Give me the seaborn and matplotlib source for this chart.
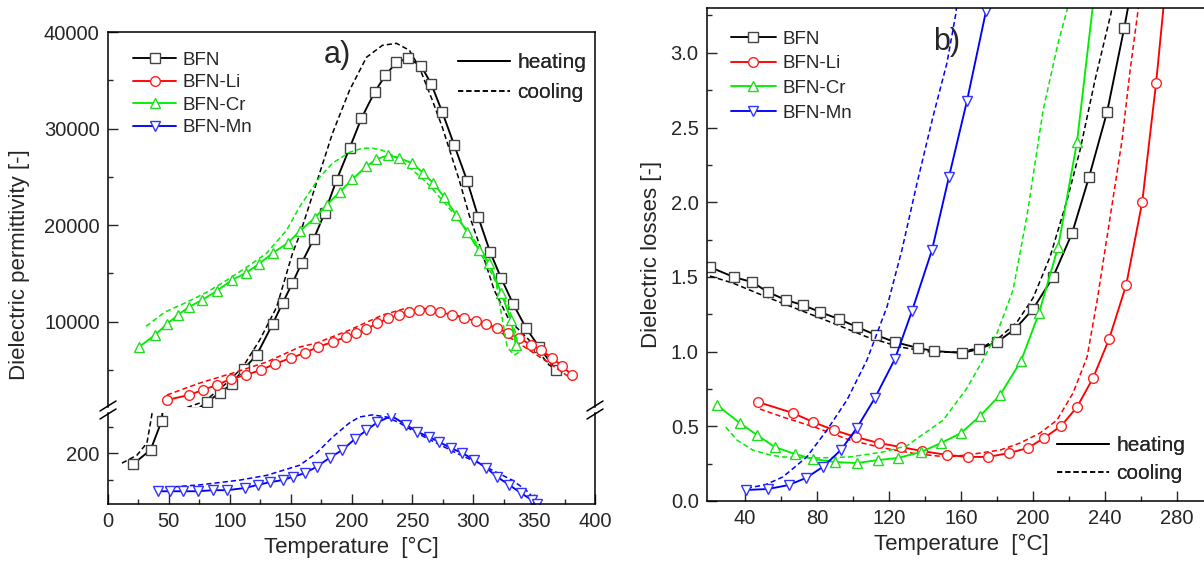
import matplotlib
matplotlib.use("Agg")
import matplotlib.pyplot as plt
from matplotlib.lines import Line2D
from matplotlib.ticker import MultipleLocator
import seaborn as sns

# ---------------- panel a) dielectric permittivity ----------------
a_bfn_heat_T = [20.5, 35, 44, 55, 70, 81.1, 91.8, 101.6, 111.5, 122.1, 135.2, 143.4, 151.5, 159, 168.9,
                177.9, 187.7, 198.4, 208.2, 218.9, 227.9, 236.9, 246.7, 257.4, 265.6, 274.6, 284.4,
                295.1, 304.1, 313.9, 322.9, 332.8, 343.4, 354.1, 368]
a_bfn_heat_V = [179, 206, 260, 500, 600, 1693, 2624, 3555, 5107, 6555, 9762, 11934, 14000, 16072, 18555,
                21245, 24659, 27969, 31073, 33763, 35521, 36866, 37280, 36452, 34590, 31693, 28280,
                24555, 20831, 17210, 14521, 11831, 9348, 7383, 5003]
a_bfn_cool_T = [11.5, 23.8, 32, 36, 45, 62, 75.4, 83.6, 97.5, 110.7, 124.6, 138.5, 151.6, 157.4, 173.8,
                184.4, 198.4, 212.3, 225.4, 236.9, 247.5, 255.7, 266.4, 274.6, 288.5, 296.7, 306.6,
                317.2, 329.5, 345.9, 362.3, 373]
a_bfn_cool_V = [181, 196, 219, 272, 500, 1000, 1590, 2210, 3660, 5310, 8107, 11520, 17107, 18970, 25380,
                29520, 33970, 37380, 38620, 38830, 38110, 36350, 32930, 30140, 24660, 21040, 17420,
                13280, 10180, 8107, 5521, 4690]

a_li_heat_T = [48.4, 66.4, 77.9, 89.3, 100.8, 113.1, 125.4, 136.9, 150, 161.5, 172.1, 184.4, 195.1,
               203.3, 212.3, 221.3, 230.3, 239.3, 247.5, 255.7, 264.8, 273, 282.8, 292.6, 302.5,
               310.7, 319.7, 328.7, 337.7, 347.5, 355.7, 364.8, 373, 381.1]
a_li_heat_V = [1900, 2417, 2934, 3452, 4072, 4486, 5003, 5624, 6245, 6762, 7383, 7900, 8417,
               8831, 9245, 9866, 10383, 10693, 11003, 11210, 11210, 11003, 10693, 10383, 10072,
               9762, 9348, 8831, 8314, 7590, 7073, 6245, 5417, 4486]
a_li_cool_T = [48.4, 75.4, 102.5, 130.3, 157.4, 171.3, 198.4, 225.4, 245.1, 258.2, 280.3, 307.4,
               329.5, 348.4, 362.3, 378.7]
a_li_cool_V = [2417, 3659, 4693, 5831, 7383, 7797, 9142, 10693, 11417, 11417, 10900, 9866,
               8417, 6866, 5728, 4279]

a_cr_heat_T = [25.4, 38.5, 48.4, 57.4, 66.4, 77, 89.3, 101.6, 113.1, 123.8, 135.2, 147.5, 157.4,
               169.7, 179.5, 190.2, 200.8, 212.3, 220.5, 230.3, 239.3, 250, 259, 267.2, 276.2,
               286.1, 295.1, 304.9, 313.1, 323, 331.1, 335]
a_cr_heat_V = [7383, 8624, 9762, 10693, 11521, 12245, 13176, 14314, 15038, 15969, 17107, 18141, 19383,
               20728, 22073, 23417, 24762, 26107, 26831, 27245, 26935, 26417, 25383, 24348, 22900,
               21038, 19280, 17417, 16072, 12969, 10176, 7600]
a_cr_cool_T = [292, 306, 314.5, 321.3, 329.5, 336, 337.7, 333.6, 327.9, 323, 318.9, 310.7, 299.2,
               288.5, 274.6, 261.5, 247.5, 236.9, 225.4, 217, 209, 198.4, 184.4, 173.8, 157.4,
               146.7, 130.3, 113.9, 97.5, 81.1, 64.8, 46.7, 30.3]
a_cr_cool_V = [19900, 17620, 15690, 13280, 11520, 8110, 6860, 6550, 7380, 10900, 14000, 16070, 18450,
               20520, 22590, 24450, 26000, 27040, 27760, 27970, 27970, 27550, 26420, 24970, 21900,
               19480, 17100, 15650, 14300, 13060, 12030, 11000, 9440]

a_mn_heat_T = [41, 50.8, 61.5, 73.8, 86, 97.5, 112.3, 123, 132.8, 143.4, 151.6, 161.5, 171.3, 182,
               192.6, 202.5, 212.3, 221.3, 232.8, 245, 254, 264, 272, 282, 291, 301, 310.7, 319.7,
               329.5, 339, 348.4, 352.5]
a_mn_heat_V = [128, 128, 128, 128, 130, 130, 134, 140, 145, 149, 155, 162, 174, 191,
               206, 226, 243, 258, 270, 253, 240, 230, 221, 209, 200, 187, 172, 155,
               140, 125, 111, 104]
a_mn_cool_T = [40.2, 75.4, 108.2, 130.3, 157.4, 171.3, 184.4, 198.4, 206.6, 217.2, 228.7, 239.3,
               253.3, 269.7, 286.1, 302.5, 318.9, 332, 343.4, 351.6, 356.6]
a_mn_cool_V = [134, 140, 149, 158, 177, 200, 230, 257, 268, 272, 268, 257,
               238, 219, 200, 183, 164, 149, 130, 111, 98]

# ---------------- panel b) dielectric losses ----------------
b_bfn_heat_T = [20.6, 33.9, 43.9, 52.8, 62.8, 72.2, 81.7, 92.2, 102.2, 112.8, 123.3, 136.1, 145,
                160.6, 170, 180, 190, 200, 211.1, 221.7, 231.1, 241.1, 250.6, 255]
b_bfn_heat_V = [1.566, 1.499, 1.466, 1.399, 1.345, 1.312, 1.265, 1.218, 1.165, 1.111, 1.064, 1.024,
                1.004, 0.991, 1.017, 1.064, 1.151, 1.285, 1.499, 1.794, 2.169, 2.604, 3.166, 3.45]
b_bfn_cool_T = [20.6, 33.3, 52.2, 70.6, 88.9, 107.8, 126.1, 142.8, 159.4, 172.2, 181.7, 191.1, 200,
                209.4, 218.9, 226.1, 234.4, 243.3, 245.5]
b_bfn_cool_V = [1.506, 1.459, 1.365, 1.278, 1.191, 1.098, 1.031, 0.997, 0.997, 1.031, 1.098, 1.198,
                1.359, 1.633, 2.015, 2.349, 2.818, 3.266, 3.45]

b_li_heat_T = [47.2, 66.7, 77.8, 89.4, 101.7, 114.4, 126.7, 138.3, 152.2, 163.9, 175, 186.7, 197.2,
               206.1, 215.6, 224.4, 233.3, 242.2, 251.7, 260.6, 268.3, 274]
b_li_heat_V = [0.663, 0.589, 0.529, 0.475, 0.428, 0.388, 0.361, 0.335, 0.308, 0.295, 0.295, 0.321,
               0.355, 0.422, 0.502, 0.629, 0.823, 1.084, 1.446, 2.001, 2.798, 3.5]
b_li_cool_T = [48.3, 61.1, 80, 98.3, 116.7, 135.6, 152.2, 163.3, 181.7, 192.8, 203.9, 213.3, 222.2,
               230, 235.6, 242.8, 249.4, 253.9, 258.3, 259.6]
b_li_cool_V = [0.616, 0.562, 0.489, 0.408, 0.355, 0.315, 0.295, 0.308, 0.341, 0.388, 0.455, 0.542,
               0.723, 0.964, 1.345, 1.901, 2.416, 2.885, 3.286, 3.45]

b_cr_heat_T = [24.4, 37.2, 46.7, 56.7, 67.8, 77.8, 90, 102.2, 113.9, 125, 137.8, 148.9, 160, 170.6,
               181.7, 193.3, 203.3, 213.9, 224.4, 234.5]
b_cr_heat_V = [0.643, 0.522, 0.442, 0.361, 0.315, 0.281, 0.261, 0.254, 0.274, 0.288, 0.328, 0.388,
               0.455, 0.569, 0.710, 0.937, 1.258, 1.700, 2.403, 3.45]
b_cr_cool_T = [29.4, 35.6, 44.4, 53.9, 61.1, 80, 98.3, 116.7, 130, 137, 150, 163, 172.2, 180, 188.9,
               196.7, 205.6, 213.9, 218.9, 220.2]
b_cr_cool_V = [0.495, 0.408, 0.341, 0.308, 0.295, 0.288, 0.295, 0.328, 0.370, 0.430, 0.540, 0.750,
               0.944, 1.124, 1.412, 1.914, 2.617, 3.066, 3.286, 3.45]

b_mn_heat_T = [40.6, 52.8, 64.4, 73.9, 83.3, 93.3, 102.2, 112.2, 123.3, 132.8, 143.9, 153.3, 163.3,
               173.9, 175.5]
b_mn_heat_V = [0.074, 0.080, 0.107, 0.154, 0.228, 0.341, 0.489, 0.689, 0.950, 1.272, 1.680, 2.169,
               2.677, 3.280, 3.45]
b_mn_cool_T = [41.1, 51.1, 61.1, 67.8, 74.4, 85.6, 96.7, 107.8, 118.9, 127.2, 135.6, 144.4, 152.2,
               157.2, 158.6]
b_mn_cool_V = [0.087, 0.107, 0.161, 0.228, 0.295, 0.475, 0.676, 0.944, 1.299, 1.680, 2.128, 2.570,
               2.932, 3.266, 3.45]

sample_labels = ["BFN", "BFN-Li", "BFN-Cr", "BFN-Mn"]
sample_colors = ["#000000", "#ff0000", "#00ee00", "#0000ff"]
sample_edges = ["#444444", "#ff2020", "#20dd20", "#3333ff"]
sample_markers = ["s", "o", "^", "v"]
mode_labels = ["heating", "cooling"]

# ---------------- style ----------------
sns.set_style("ticks")
plt.rcParams["font.family"] = ["Liberation Sans", "DejaVu Sans"]
plt.rcParams["axes.linewidth"] = 1.1

W, H = 1204, 565
fig = plt.figure(figsize=(W / 100, H / 100), dpi=100)


def rect(l, t, r, b):
    return [l / W, 1 - b / H, (r - l) / W, (b - t) / H]


ax_top = fig.add_axes(rect(108, 32, 595, 407))
ax_bot = fig.add_axes(rect(108, 413, 595, 504))
ax_b = fig.add_axes(rect(707, 8, 1215, 501))

DASH = (0, (3.4, 2.0))


def heat(ax, T, V, i):
    sns.lineplot(x=T, y=V, ax=ax, sort=False, estimator=None, color=sample_colors[i], lw=1.35,
                 marker=sample_markers[i], markersize=7 if i else 6.8, markerfacecolor="white",
                 markeredgecolor=sample_edges[i], markeredgewidth=1.0, legend=False)


def cool(ax, T, V, i):
    sns.lineplot(x=T, y=V, ax=ax, sort=False, estimator=None, color=sample_colors[i], lw=1.1,
                 linestyle=DASH, legend=False)


series_a = [
    (a_bfn_heat_T, a_bfn_heat_V, a_bfn_cool_T, a_bfn_cool_V),
    (a_li_heat_T, a_li_heat_V, a_li_cool_T, a_li_cool_V),
    (a_cr_heat_T, a_cr_heat_V, a_cr_cool_T, a_cr_cool_V),
    (a_mn_heat_T, a_mn_heat_V, a_mn_cool_T, a_mn_cool_V),
]
series_b = [
    (b_bfn_heat_T, b_bfn_heat_V, b_bfn_cool_T, b_bfn_cool_V),
    (b_li_heat_T, b_li_heat_V, b_li_cool_T, b_li_cool_V),
    (b_cr_heat_T, b_cr_heat_V, b_cr_cool_T, b_cr_cool_V),
    (b_mn_heat_T, b_mn_heat_V, b_mn_cool_T, b_mn_cool_V),
]

for ax in (ax_top, ax_bot):
    for i, (hT, hV, cT, cV) in enumerate(series_a):
        cool(ax, cT, cV, i)
        heat(ax, hT, hV, i)
for i, (hT, hV, cT, cV) in enumerate(series_b):
    cool(ax_b, cT, cV, i)
    heat(ax_b, hT, hV, i)

# ---------------- axes a ----------------
ax_top.set_xlim(0, 400)
ax_bot.set_xlim(0, 400)
ax_top.set_ylim(1176, 40000)
ax_bot.set_ylim(104, 275.5)
ax_top.spines["bottom"].set_visible(False)
ax_bot.spines["top"].set_visible(False)
ax_top.set_yticks([10000, 20000, 30000, 40000])
ax_top.yaxis.set_minor_locator(MultipleLocator(5000))
ax_bot.set_yticks([200])
ax_bot.set_yticks([150, 250], minor=True)
ax_bot.set_xticks(range(0, 401, 50))
ax_bot.xaxis.set_minor_locator(MultipleLocator(25))
ax_top.tick_params(axis="x", which="both", bottom=False, top=False, labelbottom=False)
ax_top.set_xlabel("")
ax_top.set_ylabel("")
ax_bot.set_ylabel("")
ax_bot.set_xlabel("Temperature  [°C]", fontsize=16, labelpad=4)

# ---------------- axes b ----------------
ax_b.set_xlim(19, 301)
ax_b.set_ylim(0, 3.3)
ax_b.set_xticks(range(40, 300, 40))
ax_b.set_xticks(range(60, 300, 40), minor=True)
ax_b.set_yticks([0, 0.5, 1.0, 1.5, 2.0, 2.5, 3.0])
ax_b.yaxis.set_minor_locator(MultipleLocator(0.25))
ax_b.set_xlabel("Temperature  [°C]", fontsize=16, labelpad=4)
ax_b.set_ylabel("Dielectric losses [-]", fontsize=16, labelpad=6)

for ax in (ax_top, ax_bot, ax_b):
    ax.tick_params(which="major", direction="in", length=7, width=1.0, labelsize=14.5, pad=6,
                   right=False, top=False)
    ax.tick_params(which="minor", direction="in", length=3.5, width=1.0, right=False, top=False)
    for s in ax.spines.values():
        s.set_linewidth(1.1)
        s.set_color("black")

fig.text(20 / W, 1 - 265 / H, "Dielectric permittivity [-]", rotation=90, ha="center", va="center",
         fontsize=16)

# break marks
for xs in (108, 595):
    for yc in (406, 414):
        fig.add_artist(Line2D([(xs - 8) / W, (xs + 8) / W], [1 - (yc + 5) / H, 1 - (yc - 5) / H],
                              color="black", lw=1.1))

# panel letters
fig.text(337 / W, 1 - 55 / H, "a)", fontsize=22, ha="center", va="center")
fig.text(947 / W, 1 - 42 / H, "b)", fontsize=22, ha="center", va="center")

# legends
sample_handles = [Line2D([], [], color=sample_colors[i], lw=1.35, marker=sample_markers[i], markersize=7,
                         markerfacecolor="white", markeredgecolor=sample_edges[i]) for i in range(4)]
mode_handles = [Line2D([], [], color="black", lw=1.35), Line2D([], [], color="black", lw=1.1, linestyle=DASH)]


def add_leg(ax, handles, labels, x_left, y_center, fs, spacing, hl):
    leg = ax.legend(handles, labels, loc="center left", bbox_to_anchor=(x_left / W, 1 - y_center / H),
                    bbox_transform=fig.transFigure, frameon=False, fontsize=fs, labelspacing=spacing,
                    handlelength=hl, handletextpad=0.35, borderpad=0.0, borderaxespad=0.0, numpoints=1)
    ax.add_artist(leg)
    return leg


add_leg(ax_top, sample_handles, sample_labels, 133, 94, 13.5, 0.28, 2.3)
add_leg(ax_top, mode_handles, mode_labels, 458, 77.5, 15, 0.54, 2.5)
add_leg(ax_b, sample_handles, sample_labels, 731, 76, 13.5, 0.4, 2.4)
add_leg(ax_b, mode_handles, mode_labels, 1057, 459.5, 15, 0.43, 2.5)

fig.savefig("out.png", dpi=100, facecolor="white")
